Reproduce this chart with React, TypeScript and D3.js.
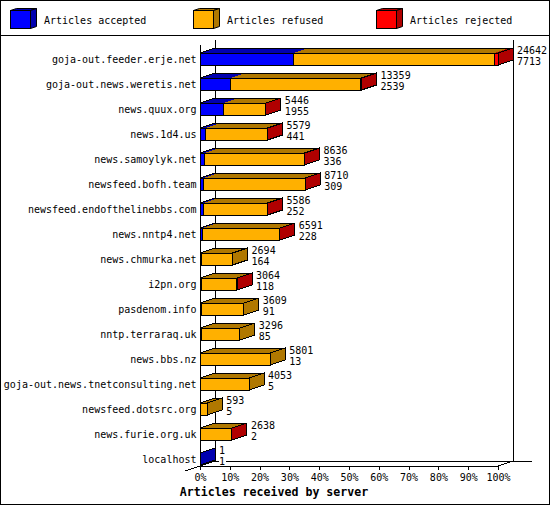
import React, { useEffect, useRef } from 'react';
import { axisBottom, scaleBand, scaleLinear, select, stack } from 'd3';

const servers = [
  'goja-out.feeder.erje.net',
  'goja-out.news.weretis.net',
  'news.quux.org',
  'news.1d4.us',
  'news.samoylyk.net',
  'newsfeed.bofh.team',
  'newsfeed.endofthelinebbs.com',
  'news.nntp4.net',
  'news.chmurka.net',
  'i2pn.org',
  'pasdenom.info',
  'nntp.terraraq.uk',
  'news.bbs.nz',
  'goja-out.news.tnetconsulting.net',
  'newsfeed.dotsrc.org',
  'news.furie.org.uk',
  'localhost',
];
const received = [24642, 13359, 5446, 5579, 8636, 8710, 5586, 6591, 2694, 3064, 3609, 3296, 5801, 4053, 593, 2638, 1];
const accepted = [7713, 2539, 1955, 441, 336, 309, 252, 228, 164, 118, 91, 85, 13, 5, 5, 2, 1];
const refused = [16679, 10760, 3481, 5123, 8280, 8381, 5319, 6348, 2530, 2936, 3518, 3211, 5788, 4048, 588, 2626, 0];
const rejected = [250, 60, 10, 15, 20, 20, 15, 15, 0, 10, 0, 0, 0, 0, 0, 10, 0];

const keys = ['accepted', 'refused', 'rejected'];
const legendLabels = ['Articles accepted', 'Articles refused', 'Articles rejected'];
const fronts = ['#0000ff', '#ffb000', '#ff0000'];
const darks = ['#0000b0', '#b07800', '#b00000'];
const ticks = [0, 10, 20, 30, 40, 50, 60, 70, 80, 90, 100];

const mono = '"DejaVu Sans Mono", monospace';

const App = () => {
  const chartRef = useRef<SVGSVGElement | null>(null);

  useEffect(() => {
    const width = 550;
    const height = 505;
    const depthX = 15;
    const depthY = 5;
    const floor = 466;
    const left = 200;
    const right = 498;

    const svg = select(chartRef.current);
    svg.selectAll('*').remove();
    svg.attr('width', width).attr('height', height).attr('font-family', mono).attr('font-size', 10);

    svg.append('rect').attr('x', 0.5).attr('y', 0.5).attr('width', width - 1).attr('height', height - 1)
      .attr('fill', '#fff').attr('stroke', '#000');
    svg.append('line').attr('x1', 0).attr('x2', width).attr('y1', 35.5).attr('y2', 35.5).attr('stroke', '#000');

    // legend
    const legendX = scaleLinear().domain([0, 1]).range([10.5, 193.5]);
    legendLabels.forEach((label, i) => {
      const g = svg.append('g').attr('transform', `translate(${legendX(i)},10.5)`);
      const w = 20;
      const h = 18;
      g.append('polygon').attr('points', `0,0 6,-2 ${w + 6},-2 ${w},0`).attr('fill', darks[i]).attr('stroke', '#000');
      g.append('polygon').attr('points', `${w},0 ${w + 6},-2 ${w + 6},${h - 2} ${w},${h}`).attr('fill', darks[i]).attr('stroke', '#000');
      g.append('rect').attr('width', w).attr('height', h).attr('fill', fronts[i]).attr('stroke', '#000');
      g.append('text').attr('x', 33.5).attr('y', 9.5).attr('dy', '0.35em').text(label);
    });

    const x = scaleLinear().domain([0, 100]).range([left, right]);
    const y = scaleBand<string>().domain(servers).range([46.5, 471.5]).paddingInner(0.52).paddingOuter(0.26);
    const pct = (v: number) => (v / received[0]) * 100;

    const rows = servers.map((s, i) => ({
      server: s,
      accepted: pct(accepted[i]),
      refused: pct(refused[i]),
      rejected: pct(rejected[i]),
    }));
    const layers = stack<any>().keys(keys)(rows);

    // walls
    const walls = svg.append('g').attr('stroke', '#000').attr('shape-rendering', 'crispEdges');
    walls.append('line').attr('x1', left + 0.5).attr('x2', left + 0.5).attr('y1', 45).attr('y2', floor);
    walls.append('line').attr('x1', left + depthX + 0.5).attr('x2', left + depthX + 0.5).attr('y1', 40).attr('y2', floor - depthY);
    walls.append('line').attr('x1', right + depthX + 0.5).attr('x2', right + depthX + 0.5).attr('y1', 40).attr('y2', floor - depthY);
    walls.append('line').attr('x1', left + depthX).attr('x2', 532).attr('y1', floor - depthY + 0.5).attr('y2', floor - depthY + 0.5);
    walls.append('line').attr('x1', left).attr('x2', right).attr('y1', floor + 0.5).attr('y2', floor + 0.5);

    const slants = svg.append('g').attr('stroke', '#000').attr('shape-rendering', 'crispEdges');
    slants.append('line').attr('x1', left - depthX).attr('y1', floor + depthY).attr('x2', left + depthX).attr('y2', floor - depthY);
    slants.append('line').attr('x1', right).attr('y1', floor).attr('x2', right + depthX).attr('y2', floor - depthY);

    // bars
    servers.forEach((server, i) => {
      const top = y(server) as number;
      const h = y.bandwidth();
      const g = svg.append('g').attr('shape-rendering', 'crispEdges');
      const segs = layers
        .map((layer, k) => ({ k, x0: x(layer[i][0]), x1: x(layer[i][1]), size: layer[i][1] - layer[i][0] }))
        .filter((s) => s.size > 0);
      const start = segs[0].x0;
      const end = segs[segs.length - 1].x1;
      const last = segs[segs.length - 1];

      segs.forEach((s) => {
        g.append('polygon')
          .attr('points', `${s.x0},${top} ${s.x0 + depthX},${top - depthY} ${s.x1 + depthX},${top - depthY} ${s.x1},${top}`)
          .attr('fill', darks[s.k]);
      });
      g.append('polygon')
        .attr('points', `${start},${top} ${start + depthX},${top - depthY} ${end + depthX},${top - depthY} ${end},${top}`)
        .attr('fill', 'none')
        .attr('stroke', '#000');
      g.append('polygon')
        .attr('points', `${end},${top} ${end + depthX},${top - depthY} ${end + depthX},${top + h - depthY} ${end},${top + h}`)
        .attr('fill', darks[last.k])
        .attr('stroke', '#000');
      segs.forEach((s) => {
        if (s.x1 - s.x0 < 1) return;
        g.append('rect')
          .attr('x', s.x0)
          .attr('y', top)
          .attr('width', s.x1 - s.x0)
          .attr('height', h)
          .attr('fill', fronts[s.k])
          .attr('stroke', '#000');
      });

      // server name and the two counts
      svg.append('text')
        .attr('x', 196.5)
        .attr('y', top + h / 2)
        .attr('dy', '0.35em')
        .attr('text-anchor', 'end')
        .text(server);

      const labelX = end + depthX + 4;
      const labelWidth = Math.max(String(received[i]).length, String(accepted[i]).length) * 6;
      svg.append('rect').attr('x', labelX).attr('y', top - 9).attr('width', labelWidth + 1).attr('height', 22).attr('fill', '#fff');
      svg.append('text').attr('x', labelX).attr('y', top - 3).attr('dy', '0.35em').text(received[i]);
      svg.append('text').attr('x', labelX).attr('y', top + 8).attr('dy', '0.35em').text(accepted[i]);
    });

    // x axis
    const axis = svg.append('g')
      .attr('transform', `translate(0,${floor})`)
      .call(axisBottom(x).tickValues(ticks).tickSize(4).tickPadding(4).offset(0.5).tickFormat((d) => `${d}%`));
    axis.select('.domain').remove();
    axis.selectAll('line').attr('shape-rendering', 'crispEdges').attr('stroke', '#000');
    axis.selectAll('text').attr('font-family', mono).attr('font-size', 10).attr('fill', '#000');

    svg.append('text')
      .attr('x', 274)
      .attr('y', 492)
      .attr('dy', '0.35em')
      .attr('text-anchor', 'middle')
      .attr('font-weight', 'bold')
      .attr('font-size', 11.6)
      .text('Articles received by server');
  }, []);

  return <svg ref={chartRef} style={{ position: 'absolute', left: 0, top: 0, display: 'block' }} />;
};

export default App;
